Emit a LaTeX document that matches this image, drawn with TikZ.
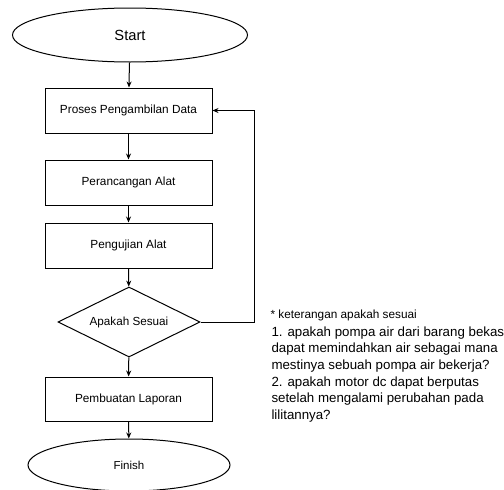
\documentclass[tikz,border=0pt]{standalone}
\usepackage{fontspec}
\setmainfont{Liberation Sans}
\usetikzlibrary{shapes.geometric, positioning, arrows.meta}

\begin{document}
\begin{tikzpicture}[
    x=1pt, y=-1pt,
    line width=1pt,
    terminal/.style={ellipse, draw, inner sep=0pt, minimum width=235pt, minimum height=54pt},
    process/.style={rectangle, draw, inner sep=0pt, minimum width=167pt, minimum height=45pt, font=\fontsize{11.8}{14}\selectfont},
    decision/.style={diamond, draw, inner sep=0pt, aspect=2, minimum width=142pt, minimum height=70pt, font=\fontsize{11.7}{14}\selectfont},
    flow/.style={-{Stealth[length=6pt, width=5pt]}},
    note/.style={inner sep=0pt, align=left, anchor=base west}
]
    \useasboundingbox (0,0) rectangle (504,490);

    % Terminal nodes
    \node[terminal, font=\fontsize{14.7}{17}\selectfont] (start) at (130,35) {Start};
    \node[terminal, minimum width=202pt, minimum height=52pt, font=\fontsize{11.5}{14}\selectfont] (finish) at (129,465) {Finish};

    % Process steps
    \node[process] (data) at (128.5,110.5) {Proses Pengambilan Data};
    \node[process] (rancang) at (128.5,182.5) {Perancangan Alat};
    \node[process] (uji) at (128.5,245.5) {Pengujian Alat};
    \node[decision] (sesuai) at (129,322) {Apakah Sesuai};
    \node[process, minimum height=44pt] (laporan) at (128.5,399) {Pembuatan Laporan};

    % Note (base of a multi-line node is its last line)
    \node[note, font=\fontsize{11.8}{14}\selectfont] (ketHead) at (270,318) {* keterangan apakah sesuai};
    \node[note, font=\fontsize{13.3}{16.7}\selectfont] (ketBody) at (271,419.5) {1. apakah pompa air dari barang bekas\\
        dapat memindahkan air sebagai mana\\
        mestinya sebuah pompa air bekerja?\\
        2. apakah motor dc dapat berputas\\
        setelah mengalami perubahan pada\\
        lilitannya?};

    % Connectors
    \draw[flow] (start) -- (data);
    \draw[flow] (data) -- (rancang);
    \draw[flow] (rancang) -- (uji);
    \draw[flow] (uji) -- (sesuai);
    \draw[flow] (sesuai) -- (laporan);
    \draw[flow] (laporan) -- (finish);
    \draw[flow] (sesuai.east) -- ++(54,0) |- (data.east);
\end{tikzpicture}
\end{document}
